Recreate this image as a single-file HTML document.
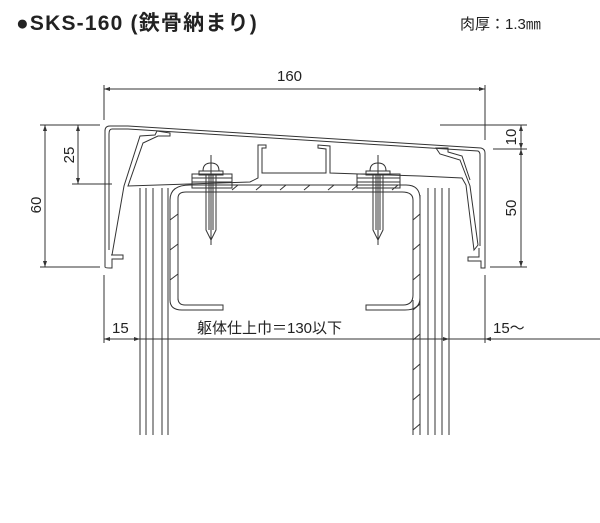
<!DOCTYPE html>
<html><head><meta charset="utf-8"><style>
body{margin:0;background:#fff;width:600px;height:523px;overflow:hidden}
svg{display:block}
text{font-family:"Liberation Sans","Noto Sans CJK JP",sans-serif;fill:#222}
</style></head><body>
<svg width="600" height="523" viewBox="0 0 600 523" xmlns="http://www.w3.org/2000/svg">
<text x="16" y="30" font-size="21" font-weight="bold" letter-spacing="1.2">●SKS-160 (鉄骨納まり)</text>
<text x="460" y="29" font-size="15">肉厚：1.3㎜</text>
<g stroke="#333" stroke-width="1" fill="none">
<line x1="104" y1="85" x2="104" y2="120"/><line x1="485" y1="85" x2="485" y2="140"/>
<line x1="104" y1="89" x2="485" y2="89"/>
<line x1="40" y1="125" x2="100" y2="125"/><line x1="40" y1="267" x2="100" y2="267"/>
<line x1="72" y1="184" x2="112" y2="184"/>
<line x1="45" y1="125" x2="45" y2="267"/><line x1="78" y1="125" x2="78" y2="184"/>
<line x1="104" y1="275" x2="104" y2="343"/>
<line x1="440" y1="125" x2="527" y2="125"/><line x1="493" y1="149" x2="527" y2="149"/><line x1="490" y1="267" x2="527" y2="267"/>
<line x1="521" y1="125" x2="521" y2="267"/>
<line x1="485" y1="275" x2="485" y2="343"/>
<line x1="104" y1="339" x2="600" y2="339"/>
</g>
<g fill="#333">
<path d="M104 89l6 -2v4z M485 89l-6 -2v4z M45 125l-2 6h4z M45 267l-2 -6h4z M78 125l-2 6h4z M78 184l-2 -6h4z M521 125l-2 6h4z M521 149l-2 -6h4z M521 149l-2 6h4z M521 267l-2 -6h4z M104 339l6 -2v4z M140 339l-6 -2v4z M485 339l6 -2v4z M449 339l-6 -2v4z"/>
</g>
<text x="277" y="81" font-size="15">160</text>
<text transform="translate(41 205) rotate(-90)" font-size="15" text-anchor="middle">60</text>
<text transform="translate(74 155) rotate(-90)" font-size="15" text-anchor="middle">25</text>
<text transform="translate(516 137) rotate(-90)" font-size="15" text-anchor="middle">10</text>
<text transform="translate(516 208) rotate(-90)" font-size="15" text-anchor="middle">50</text>
<text x="112" y="333" font-size="15">15</text>
<text x="197" y="333" font-size="15">躯体仕上巾＝130以下</text>
<text x="493" y="333" font-size="15">15～</text>
<g stroke="#333" stroke-width="1" fill="none">
<line x1="140" y1="188" x2="140" y2="435"/><line x1="146" y1="188" x2="146" y2="435"/><line x1="153" y1="188" x2="153" y2="435"/><line x1="162" y1="188" x2="162" y2="435"/><line x1="168" y1="188" x2="168" y2="435"/>
<line x1="428" y1="188" x2="428" y2="435"/><line x1="435" y1="188" x2="435" y2="435"/><line x1="442" y1="188" x2="442" y2="435"/><line x1="449" y1="188" x2="449" y2="435"/>
<line x1="413" y1="300" x2="413" y2="435"/><line x1="420" y1="195" x2="420" y2="435"/>
<path d="M190 185 H406 Q420 185 420 199"/>
<path d="M178 300 V198 Q178 192 186 192 H402 Q413 192 413 200 V295 Q413 305 403 305 H366 V310 H405 Q420 310 420 298"/>
<path d="M190 185 Q170 185 170 200 V300 Q170 310 182 310 H223 V305 H185 Q178 305 178 298"/>
<path d="M232 190l6 -5 M256 190l6 -5 M280 190l6 -5 M304 190l6 -5 M328 190l6 -5 M352 190l6 -5 M392 190l6 -5 M170 220l8 -6 M170 250l8 -6 M170 280l8 -6 M413 220l7 -6 M413 250l7 -6 M413 280l7 -6 M413 310l7 -6 M413 340l7 -6 M413 370l7 -6 M413 400l7 -6 M413 430l7 -6"/>
<path d="M128 126 L481 148 Q485 149 485 153 V268 L481 268 V261 L468 261 V257 L479 257 V248"/>
<path d="M128 126 H110 Q105 126 105 131 V267 Q105 268 110 268 H112 V259 H123 V255 H111"/>
<path d="M128 129 L478 151 Q480 152 480 155 V246"/>
<path d="M128 129 H112 Q109 129 109 134 V250"/>
<path d="M112 255 L124 186 L140 136 L155 135 L157 131 L170 133 V136 L158 136 L143 143 L128 186 L250 182 L258 178 V145 L266 145 V148 L262 148 V173 H326 V149 L318 148 V145 L330 146 V173 L420 176 L462 178 L466 185 L474 250 L478 245 L470 186 L460 160 L440 154 L436 148 H448 V152 L462 156 L470 180"/>
<path d="M192 174 H232 V188 H192 Z M192 178 H232 M192 182 H232"/>
<path d="M357 174 H400 V188 H357 Z M357 178 H400 M357 182 H400"/>
<path d="M203 171 Q203 163 211 163 Q219 163 219 171 Z M199 171 H223 V175 H199Z"/>
<path d="M206 175 V230 L211 240 L216 230 V175 M209 175 V230 M213 175 V230"/>
<line x1="211" y1="155" x2="211" y2="245"/>
<path d="M370 171 Q370 163 378 163 Q386 163 386 171 Z M366 171 H390 V175 H366Z"/>
<path d="M373 175 V230 L378 240 L383 230 V175 M376 175 V230 M380 175 V230"/>
<line x1="378" y1="155" x2="378" y2="245"/>
</g>
</svg>
</body></html>
